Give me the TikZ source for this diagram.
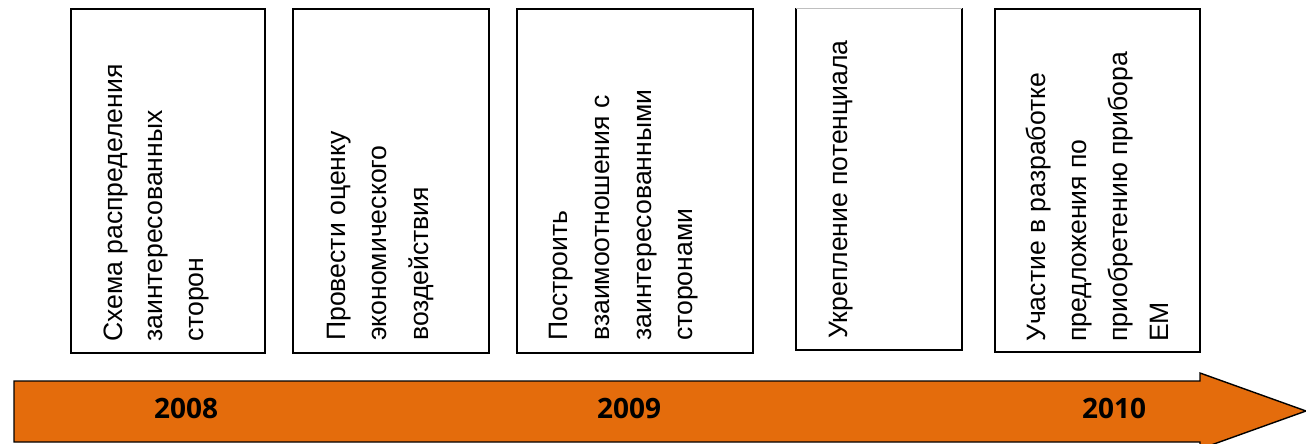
\documentclass[tikz,border=0pt]{standalone}
\usepackage{fontspec}
\setmainfont{Liberation Sans}
\newfontfamily\yearfont{Open Sans}
\definecolor{arroworange}{RGB}{228,108,12}
\begin{document}
\begin{tikzpicture}[x=1pt,y=-1pt,
  stagebox/.style={draw=black,line width=1.4pt,fill=white},
  stageline/.style={rotate=90,anchor=base west,inner sep=0pt,font=\fontsize{26.6}{30}\selectfont},
  yearlabel/.style={anchor=base,inner sep=0pt,font=\yearfont\bfseries\fontsize{28}{32}\selectfont}]
\useasboundingbox (0,0) rectangle (1306,444);
% timeline arrow
\draw[fill=arroworange,draw=black,line width=1.4pt,line join=miter]
  (14,381) -- (1200,381) -- (1200,373) -- (1306,411) -- (1200,449) -- (1200,442) -- (14,442) -- cycle;
\node[yearlabel] (y2008) at (186,418) {2008};
\node[yearlabel] (y2009) at (629,418) {2009};
\node[yearlabel] (y2010) at (1114,418) {2010};
% boxes
\node[stagebox,inner sep=0pt,minimum width=194pt,minimum height=344pt] (b1) at (168,181) {};
\node[stagebox,inner sep=0pt,minimum width=196pt,minimum height=344pt] (b2) at (391,181) {};
\node[stagebox,inner sep=0pt,minimum width=236pt,minimum height=344pt] (b3) at (635,181) {};
\draw[line width=1.4pt] (796,8) -- (796,350) -- (962,350) -- (962,8);
\draw[line width=0.6pt,black!25] (796,8) -- (962,8);
\coordinate (b4) at (879,179);
\node[stagebox,inner sep=0pt,minimum width=205pt,minimum height=343pt] (b5) at (1097.5,180.5) {};
% box 1
\node[stageline] (t11) at (122,342) {Схема распределения};
\node[stageline] (t12) at (162,342) {заинтересованных};
\node[stageline] (t13) at (203,342) {сторон};
% box 2
\node[stageline] (t21) at (345,341) {Провести оценку};
\node[stageline] (t22) at (386,341) {экономического};
\node[stageline] (t23) at (428,341) {воздействия};
% box 3
\node[stageline] (t31) at (567,341) {Построить};
\node[stageline] (t32) at (609,341) {взаимоотношения с};
\node[stageline] (t33) at (651,341) {заинтересованными};
\node[stageline] (t34) at (692,341) {сторонами};
% box 4
\node[stageline] (t41) at (847,339) {Укрепление потенциала};
% box 5
\node[stageline] (t51) at (1045,342) {Участие в разработке};
\node[stageline] (t52) at (1086,342) {предложения по};
\node[stageline] (t53) at (1127,342) {приобретению прибора};
\node[stageline] (t54) at (1168,342) {ЕМ};
\end{tikzpicture}
\end{document}
